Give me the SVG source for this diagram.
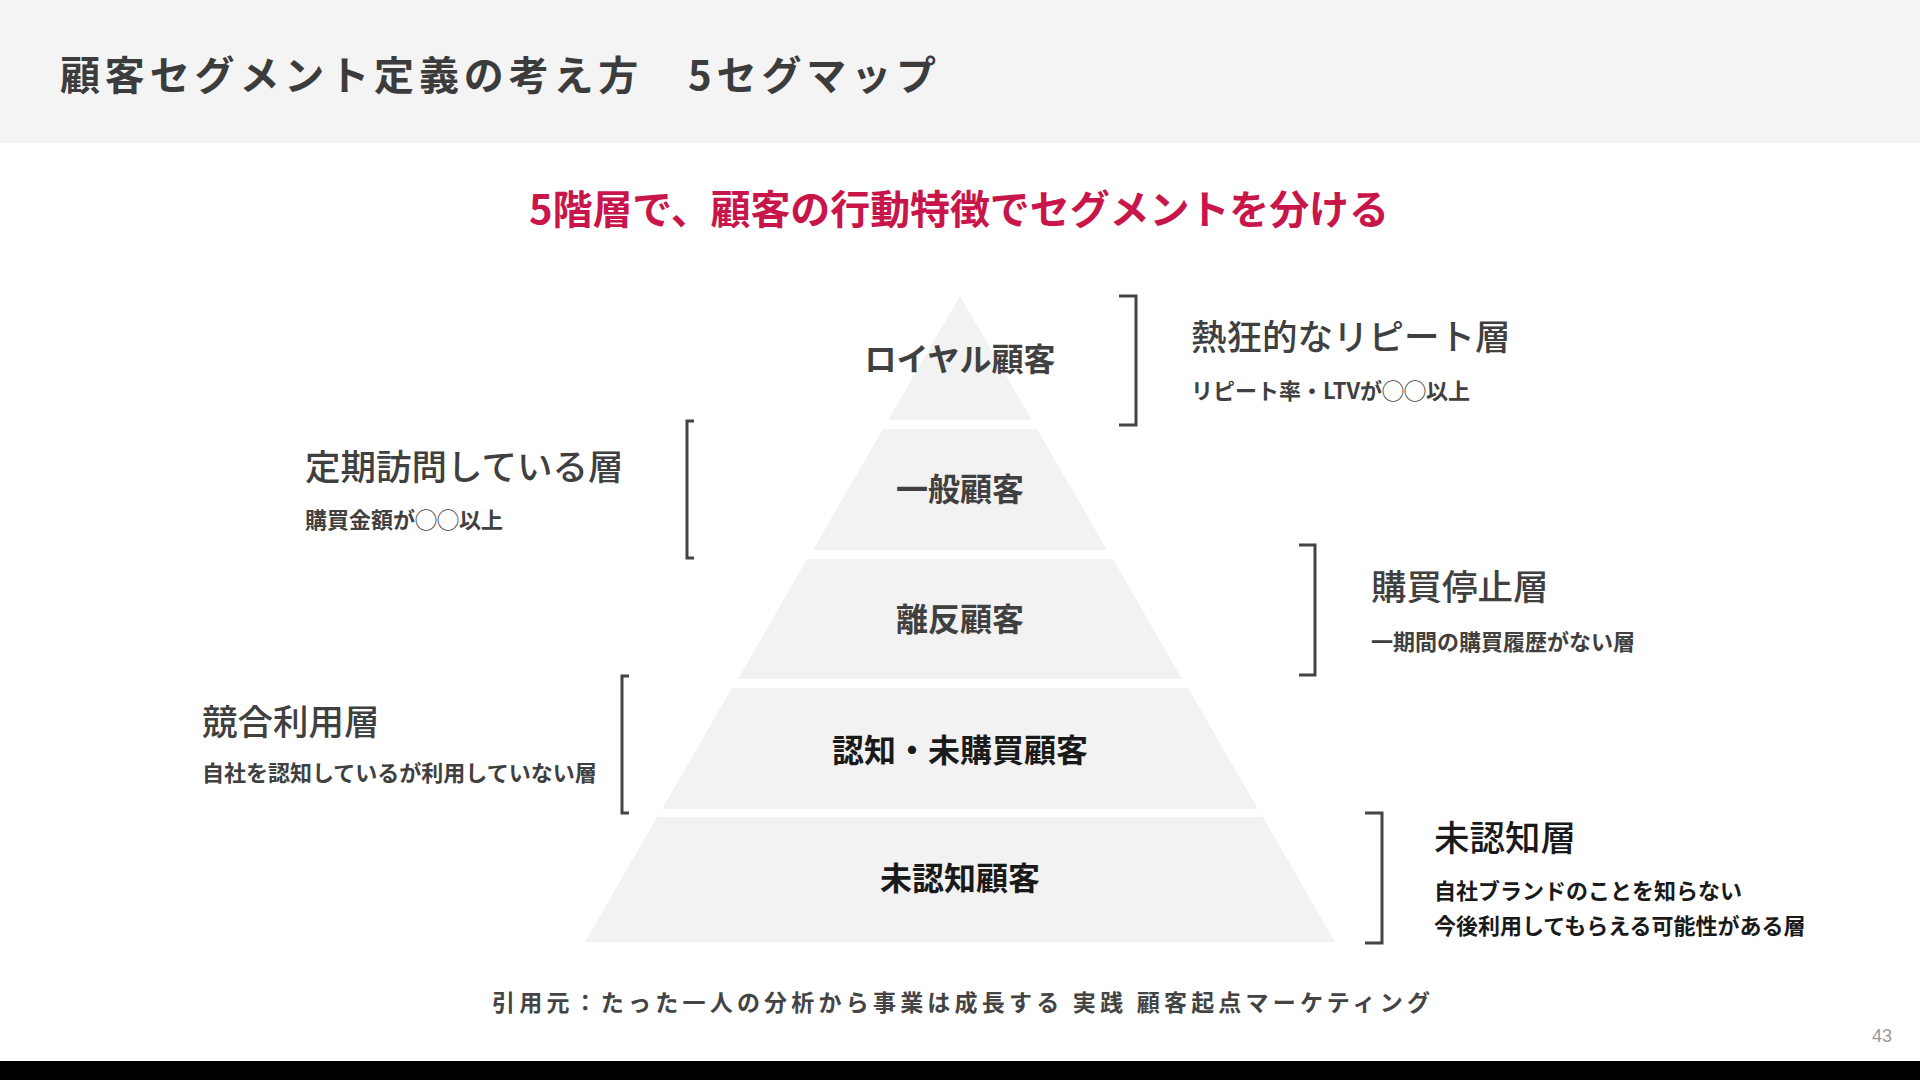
<svg xmlns="http://www.w3.org/2000/svg" width="1920" height="1080" viewBox="0 0 1920 1080">
<style>
  text { font-family: "Noto Sans CJK JP", "Noto Sans", sans-serif; }
  .hdr { font-size: 40px; font-weight: 700; fill: #3c3c3c; }
  .lead { font-size: 40px; font-weight: 700; fill: #c8164a; }
  .lvl { font-size: 32px; font-weight: 700; fill: #404040; text-anchor: middle; }
  .lvl.dark { fill: #1a1a1a; }
  .ttl { font-size: 35.5px; font-weight: 500; fill: #404040; }
  .sub { font-size: 22px; font-weight: 700; fill: #404040; }
  .dark { fill: #1a1a1a; }
  .layer { fill: #f2f2f2; }
  .br { fill: none; stroke: #444; stroke-width: 3; }
  .foot { font-size: 23px; font-weight: 700; fill: #444; }
  .pg { font-size: 18px; font-family: "Liberation Sans", sans-serif; fill: #999; }
</style>
<rect x="0" y="0" width="1920" height="1080" fill="#ffffff"/>
<rect x="0" y="0" width="1920" height="143" fill="#f4f4f4"/>
<text class="hdr" x="60" y="90" textLength="876" lengthAdjust="spacing">顧客セグメント定義の考え方　5セグマップ</text>
<text class="lead" x="529" y="224" textLength="860" lengthAdjust="spacing">5階層で、顧客の行動特徴でセグメントを分ける</text>

<g id="layer-royal">
  <polygon class="layer" points="960,296 1032,420 888,420"/>
  <text class="lvl" x="960" y="371">ロイヤル顧客</text>
</g>
<g id="layer-general">
  <polygon class="layer" points="883,429 1037,429 1107,550 813,550"/>
  <text class="lvl" x="960" y="501">一般顧客</text>
</g>
<g id="layer-churn">
  <polygon class="layer" points="807,559 1113,559 1182,679 738,679"/>
  <text class="lvl" x="960" y="631">離反顧客</text>
</g>
<g id="layer-aware">
  <polygon class="layer" points="732,688 1188,688 1258,809 662,809"/>
  <text class="lvl dark" x="960" y="762">認知・未購買顧客</text>
</g>
<g id="layer-unaware">
  <polygon class="layer" points="657,817 1263,817 1335,942 585,942"/>
  <text class="lvl dark" x="960" y="890">未認知顧客</text>
</g>

<g id="connectors">
  <polyline class="br" points="1119,296 1136,296 1136,425 1119,425"/>
  <polyline class="br" points="694,421 687,421 687,558 694,558"/>
  <polyline class="br" points="1299,545 1315,545 1315,675 1299,675"/>
  <polyline class="br" points="629,676 622,676 622,813 629,813"/>
  <polyline class="br" points="1365,813 1382,813 1382,943 1365,943"/>
</g>

<g id="note-repeat">
  <text class="ttl" x="1191" y="350">熱狂的なリピート層</text>
  <text class="sub" x="1191" y="399">リピート率・LTVが◯◯以上</text>
</g>
<g id="note-regular">
  <text class="ttl" x="305" y="480">定期訪問している層</text>
  <text class="sub" x="305" y="528">購買金額が◯◯以上</text>
</g>
<g id="note-stopped">
  <text class="ttl" x="1371" y="600">購買停止層</text>
  <text class="sub" x="1371" y="650">一期間の購買履歴がない層</text>
</g>
<g id="note-competitor">
  <text class="ttl" x="202" y="735">競合利用層</text>
  <text class="sub" x="202" y="781">自社を認知しているが利用していない層</text>
</g>
<g id="note-unaware">
  <text class="ttl dark" x="1434" y="851">未認知層</text>
  <text class="sub dark" x="1434" y="899">自社ブランドのことを知らない</text>
  <text class="sub dark" x="1434" y="934">今後利用してもらえる可能性がある層</text>
</g>

<text class="foot" x="492" y="1011" textLength="938" lengthAdjust="spacing">引用元：たった一人の分析から事業は成長する 実践 顧客起点マーケティング</text>
<text class="pg" x="1892" y="1042" text-anchor="end">43</text>
<rect x="0" y="1061" width="1920" height="19" fill="#000000"/>
</svg>
